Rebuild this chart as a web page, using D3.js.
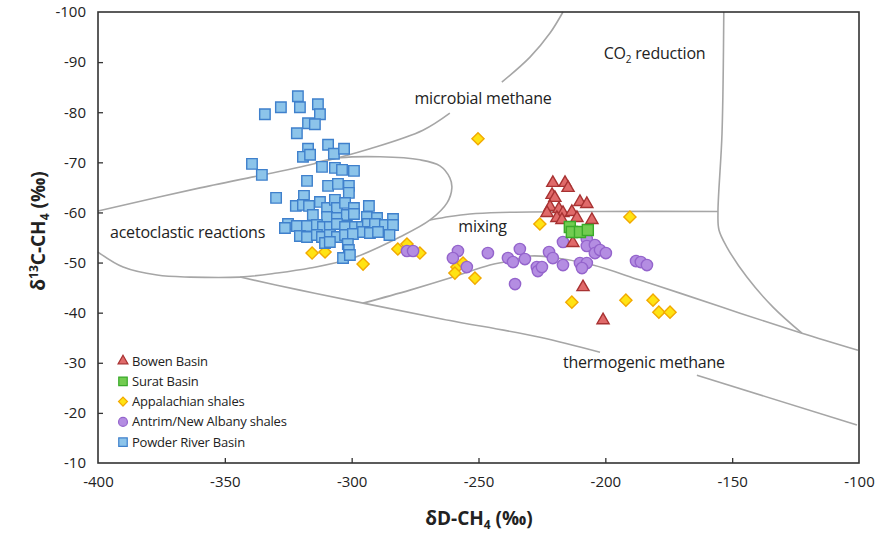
<!DOCTYPE html>
<html><head><meta charset="utf-8">
<script src="https://cdn.jsdelivr.net/npm/d3@7"></script>
<style>body{margin:0;background:#fff}svg{display:block}text{font-family:"Open Sans",sans-serif}</style>
</head><body><svg id="c" width="884" height="533"></svg>
<script>
// ---- data ----
const xTicks = [-400,-350,-300,-250,-200,-150,-100];
const yTicks = [-100,-90,-80,-70,-60,-50,-40,-30,-20,-10];
const seriesNames = ["Bowen Basin","Surat Basin","Appalachian shales","Antrim/New Albany shales","Powder River Basin"];

const bowen = [[-220.7,-65.9],[-215.9,-65.9],[-214.7,-64.9],[-221.0,-63.5],[-219.9,-62.9],[-210.0,-62.1],[-207.3,-61.7],[-221.8,-61.1],[-218.3,-60.7],[-223.0,-59.9],[-216.7,-59.9],[-213.2,-60.1],[-219.1,-58.9],[-217.1,-58.5],[-211.2,-58.9],[-205.3,-58.5],[-212.8,-53.9],[-208.8,-45.1],[-200.9,-38.5]];
const surat = [[-214.0,-57.1],[-213.2,-56.1],[-210.0,-56.1],[-206.9,-56.5]];
const appalachian = [[-250.2,-74.7],[-315.6,-51.9],[-310.5,-52.1],[-295.5,-49.7],[-281.8,-52.7],[-278.2,-53.7],[-273.1,-51.9],[-258.5,-49.1],[-256.1,-49.9],[-259.3,-47.9],[-251.4,-46.9],[-225.8,-57.7],[-190.3,-59.1],[-213.2,-42.1],[-191.9,-42.5],[-181.2,-42.5],[-178.9,-40.1],[-174.5,-40.1]];
const antrim = [[-278.2,-52.3],[-275.8,-52.3],[-258.1,-52.3],[-260.1,-50.9],[-254.6,-49.1],[-246.3,-51.9],[-238.4,-50.9],[-236.4,-50.1],[-233.7,-52.7],[-231.7,-50.7],[-227.0,-49.1],[-226.6,-48.3],[-225.0,-49.1],[-235.6,-45.7],[-222.2,-52.1],[-220.7,-50.9],[-216.7,-49.5],[-216.7,-54.1],[-210.0,-49.9],[-207.3,-49.9],[-209.2,-48.9],[-207.3,-54.7],[-207.3,-53.3],[-204.1,-53.5],[-204.1,-51.9],[-202.1,-52.5],[-199.8,-51.9],[-187.9,-50.3],[-186.0,-50.1],[-183.6,-49.5]];
const powder = [[-321.2,-83.2],[-327.9,-81.0],[-320.4,-81.0],[-313.3,-81.6],[-334.2,-79.6],[-312.5,-79.6],[-317.2,-77.8],[-314.5,-77.6],[-321.6,-75.8],[-309.3,-73.5],[-317.2,-72.7],[-319.2,-71.1],[-316.4,-71.5],[-307.0,-71.7],[-303.0,-72.7],[-339.3,-69.7],[-335.4,-67.5],[-311.7,-69.1],[-306.6,-68.9],[-303.8,-68.5],[-299.1,-68.3],[-317.6,-66.3],[-309.3,-65.3],[-305.4,-65.7],[-301.1,-65.3],[-301.1,-63.9],[-329.8,-62.9],[-318.8,-63.3],[-322.0,-61.3],[-319.2,-61.5],[-316.8,-61.3],[-312.5,-62.1],[-309.7,-60.9],[-306.6,-62.5],[-305.8,-60.9],[-302.6,-61.9],[-299.1,-60.9],[-293.2,-61.3],[-315.3,-59.5],[-309.7,-59.1],[-305.8,-58.9],[-301.9,-59.5],[-299.1,-59.7],[-294.0,-59.1],[-290.0,-58.9],[-283.7,-58.7],[-325.1,-57.7],[-321.6,-57.3],[-317.6,-57.3],[-313.7,-57.5],[-311.3,-57.1],[-308.6,-57.1],[-305.8,-57.7],[-302.6,-57.1],[-298.7,-57.1],[-295.9,-57.1],[-293.6,-57.7],[-290.8,-57.7],[-286.9,-57.5],[-283.7,-57.5],[-326.3,-56.9],[-320.4,-55.3],[-317.6,-55.1],[-313.7,-55.5],[-311.7,-55.1],[-308.6,-55.5],[-305.8,-55.1],[-302.6,-55.5],[-299.5,-55.7],[-295.5,-56.1],[-292.8,-55.9],[-289.6,-56.1],[-285.1,-55.5],[-310.5,-53.9],[-308.6,-54.1],[-301.5,-53.7],[-301.1,-52.5],[-303.4,-50.9],[-300.7,-51.5]];

// field boundary lines (data units)
const microbialUpperA = [[-400,-60.3],[-359.8,-64.9],[-316.4,-69.5],[-292.8,-72.7],[-271.9,-76.4],[-261.3,-79.8]];
const microbialUpperB = [[-240.8,-86.0],[-229.7,-91.0],[-221.8,-95.8],[-216.7,-100]];
const acetoclasticLoop = [[-314.5,-69.9],[-304.6,-70.9],[-288.8,-71.1],[-273.1,-70.5],[-265.2,-69.3],[-261.3,-66.9],[-260.5,-64.9],[-262.4,-61.9],[-269.1,-58.5],[-281.0,-55.1],[-299.5,-50.9],[-316.4,-48.9],[-329.4,-47.9],[-344.0,-47.1],[-363.7,-47.1],[-376.7,-47.5],[-390.1,-49.1],[-400,-52.1]];
const thermoUpperA = [[-344.0,-47.1],[-320.4,-44.5],[-295.5,-41.9],[-264.0,-38.7],[-225.8,-35.1],[-202.1,-32.1]];
const thermoUpperB = [[-163.9,-27.5],[-100.8,-17.6]];
const mixingLower = [[-295.5,-41.9],[-277.0,-44.5],[-261.3,-46.9],[-245.5,-49.5],[-237.6,-50.3],[-229.7,-51.3],[-221.8,-51.1],[-204.9,-49.5],[-186.4,-46.5],[-170.6,-43.9],[-146.9,-39.9],[-122.5,-35.9],[-100.4,-32.5]];
const mixingUpper = [[-269.1,-58.5],[-261.3,-59.2],[-253.4,-59.7],[-241.5,-60.0],[-202.1,-60.2],[-155.6,-60.2]];
const co2Boundary = [[-153.3,-100],[-154.0,-75.8],[-155.6,-59.9],[-155.2,-56.5],[-152.1,-53.1],[-144.2,-47.1],[-133.9,-41.1],[-122.5,-35.9]];

const fieldLabels = [
  {t:"microbial methane", x:-248.2, y:-82.8},
  {t:"mixing", x:-248.4, y:-57.3},
  {t:"acetoclastic reactions", x:-364.7, y:-56.1},
  {t:"thermogenic methane", x:-184.8, y:-30.1}
];

// ---- layout ----
const L=98, R=859, T=12, B=463;
const svg = d3.select("#c");
const x = d3.scaleLinear().domain([-400,-100]).range([L,R]);
const y = d3.scaleLinear().domain([-100,-10]).range([T,B]);

// boundary lines
const line = d3.line().x(d=>x(d[0])).y(d=>y(d[1])).curve(d3.curveCatmullRom.alpha(0.5));
const lineG = svg.append("g").attr("fill","none").attr("stroke","#a6a6a6").attr("stroke-width",1.6);
[microbialUpperA,microbialUpperB,acetoclasticLoop,thermoUpperA,thermoUpperB,mixingLower,mixingUpper,co2Boundary].forEach(p=>{
  lineG.append("path").attr("d",line(p));
});

// field labels
const lab = svg.append("g").attr("fill","#222").attr("font-size",16);
fieldLabels.forEach(d=>{
  lab.append("text").attr("x",x(d.x)).attr("y",y(d.y)).attr("dy","0.35em").attr("text-anchor","middle").attr("letter-spacing","-0.2").text(d.t);
});
const co2 = lab.append("text").attr("x",x(-180.6)).attr("y",y(-91.8)).attr("dy","0.35em").attr("text-anchor","middle").attr("letter-spacing","-0.2");
co2.append("tspan").text("CO");
co2.append("tspan").attr("font-size",10).attr("dy","4").text("2");
co2.append("tspan").attr("dy","-4").text(" reduction");

// axes
const fmt = d=>String(d);
const xAxis = d3.axisBottom(x).tickValues(xTicks).tickSize(-5).tickPadding(13).tickFormat(fmt);
const yAxis = d3.axisLeft(y).tickValues(yTicks).tickSize(-5).tickPadding(12).tickFormat(fmt);
const gx = svg.append("g").attr("transform",`translate(0,${B})`).call(xAxis);
const gy = svg.append("g").attr("transform",`translate(${L},0)`).call(yAxis);
[gx,gy].forEach(g=>{
  g.select(".domain").remove();
  g.selectAll(".tick line").attr("stroke","#333").attr("stroke-width",1.3);
  g.selectAll(".tick text").attr("font-family","Open Sans, sans-serif").attr("font-size",15).attr("fill","#222");
});
gx.selectAll(".tick").filter(d=>d===-400||d===-100).select("line").remove();
gy.selectAll(".tick").filter(d=>d===-100||d===-10).select("line").remove();
svg.append("rect").attr("x",L).attr("y",T).attr("width",R-L).attr("height",B-T).attr("fill","none").attr("stroke","#333").attr("stroke-width",1.6);

// axis titles
const xt = svg.append("text").attr("x",479).attr("y",518).attr("dy","0.35em").attr("text-anchor","middle").attr("font-size",19).attr("font-weight","bold").attr("fill","#222");
xt.append("tspan").text("δD-CH");
xt.append("tspan").attr("font-size",12).attr("dy",4).text("4");
xt.append("tspan").attr("dy",-4).text(" (‰)");
const yt = svg.append("text").attr("transform",`translate(38,231) rotate(-90)`).attr("dy","0.35em").attr("text-anchor","middle").attr("font-size",19).attr("font-weight","bold").attr("fill","#222");
yt.append("tspan").text("δ");
yt.append("tspan").attr("font-size",12).attr("dy",-7).text("13");
yt.append("tspan").attr("dy",7).text("C-CH");
yt.append("tspan").attr("font-size",12).attr("dy",4).text("4");
yt.append("tspan").attr("dy",-4).text(" (‰)");

// markers
const styles = {
  "Bowen Basin": {type:d3.symbolTriangle, size:64, fill:"#e06a6a", stroke:"#a83232", rot:0, lsize:42},
  "Surat Basin": {type:d3.symbolSquare, size:121, fill:"#72cc50", stroke:"#3aaa2a", rot:0, lsize:72},
  "Appalachian shales": {type:d3.symbolSquare, size:74, fill:"#ffe313", stroke:"#f2a900", rot:45, lsize:40},
  "Antrim/New Albany shales": {type:d3.symbolCircle, size:100, fill:"#b48de2", stroke:"#9464cc", rot:0, lsize:62},
  "Powder River Basin": {type:d3.symbolSquare, size:110, fill:"#8cc4ea", stroke:"#3f80cc", rot:0, lsize:72}
};
const dataBy = {"Bowen Basin":bowen,"Surat Basin":surat,"Appalachian shales":appalachian,"Antrim/New Albany shales":antrim,"Powder River Basin":powder};
const drawOrder = ["Appalachian shales","Powder River Basin","Antrim/New Albany shales","Bowen Basin","Surat Basin"];
drawOrder.forEach(name=>{
  const s = styles[name];
  svg.append("g").selectAll("path").data(dataBy[name]).join("path")
    .attr("d",d3.symbol().type(s.type).size(s.size))
    .attr("transform",d=>`translate(${x(d[0])},${y(d[1])}) rotate(${s.rot})`)
    .attr("fill",s.fill).attr("stroke",s.stroke).attr("stroke-width",1.4);
});

// legend
const leg = svg.append("g").attr("transform","translate(123,361)");
seriesNames.forEach((name,i)=>{
  const s = styles[name];
  const g = leg.append("g").attr("transform",`translate(0,${i*20.3})`);
  g.append("path").attr("d",d3.symbol().type(s.type).size(s.lsize)).attr("transform",`rotate(${s.rot})`)
    .attr("fill",s.fill).attr("stroke",s.stroke).attr("stroke-width",1.2);
  g.append("text").attr("x",9).attr("dy","0.35em").attr("font-size",13).attr("fill","#222").attr("letter-spacing","-0.2").text(name);
});
</script></body></html>
